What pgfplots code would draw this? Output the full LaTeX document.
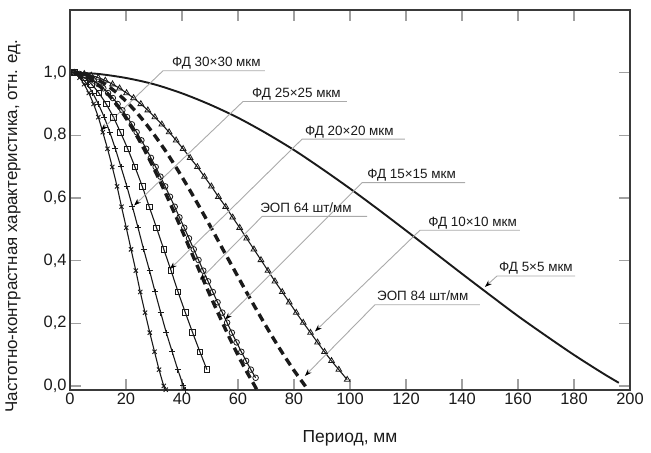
\documentclass[border=0pt]{standalone}
\usepackage{fontspec}
\setmainfont{Liberation Sans}
\usepackage{pgfplots}
\pgfplotsset{compat=1.18}
\usetikzlibrary{arrows.meta}

\definecolor{inkc}{HTML}{1A1A1A}
\definecolor{leadc}{HTML}{AAAAAA}
\definecolor{tickc}{HTML}{A0A0A0}
\definecolor{framec}{HTML}{3A3A3A}

\tikzset{
  lead/.style={leadc, line width=0.9bp},
  lbl/.style={font=\fontsize{13.5}{15}\selectfont, text=inkc, inner sep=0pt, anchor=base west, yshift=4bp},
  tip/.style={-{Stealth[length=7bp, width=5bp, color=black]}},
}

\begin{document}
\begin{tikzpicture}
\begin{axis}[
    scale only axis,
    width=560bp, height=380bp,
    xmin=0, xmax=200,
    ymin=-0.013, ymax=1.2,
    xtick={0,20,...,200},
    ytick={0,0.2,0.4,0.6,0.8,1.0},
    tick align=inside,
    major tick length=11bp,
    tick style={tickc, line width=1.2bp},
    axis line style={framec, line width=1.8bp},
    /pgf/number format/assume math mode=true,
    tick label style={font=\fontsize{16.5}{18}\selectfont, text=inkc},
    yticklabel style={/pgf/number format/.cd, fixed, fixed zerofill, precision=1, use comma},
    xlabel={Период, мм},
    ylabel={Частотно-контрастная характеристика, отн. ед.},
    every axis x label/.style={at={(rel axis cs:0.5,0)}, anchor=center, yshift=-48bp,
        font=\fontsize{17.5}{20}\selectfont, text=inkc},
    every axis y label/.style={at={(rel axis cs:0,0.5)}, rotate=90, anchor=center, yshift=57bp, xshift=-26bp,
        font=\fontsize{17}{20}\selectfont, text=inkc},
    every axis plot/.append style={inkc, smooth},
]

% ФД 30x30
\addplot[line width=1.1bp, mark=x, mark size=3bp, mark options={solid, line width=0.9bp}] coordinates {
(1.5,1.000)(3.4,0.984)(5.0,0.963)(6.7,0.935)(8.4,0.900)(10.1,0.858)(11.7,0.810)(13.4,0.757)(15.1,0.699)(16.8,0.637)(18.4,0.572)(20.1,0.505)(21.8,0.436)(23.5,0.368)(25.1,0.300)(26.8,0.234)(28.5,0.170)(30.2,0.109)(31.8,0.052)(33.5,0.000)(34.2,-0.012)};

% ФД 25x25
\addplot[line width=1.1bp, mark=+, mark size=3bp, mark options={solid, line width=0.9bp}] coordinates {
(1.5,1.000)(4.1,0.984)(6.1,0.963)(8.1,0.935)(10.1,0.900)(12.2,0.858)(14.2,0.810)(16.2,0.757)(18.2,0.699)(20.3,0.637)(22.3,0.572)(24.3,0.505)(26.3,0.436)(28.4,0.368)(30.4,0.300)(32.4,0.234)(34.4,0.170)(36.5,0.109)(38.5,0.052)(40.5,0.000)(41.2,-0.012)};

% ФД 20x20
\addplot[line width=1.1bp, mark=square, mark size=2.8bp, mark options={solid, fill=white, line width=0.8bp}] coordinates {
(1.5,1.000)(5.2,0.984)(7.7,0.963)(10.3,0.935)(12.9,0.900)(15.5,0.858)(18.0,0.810)(20.6,0.757)(23.2,0.699)(25.8,0.637)(28.3,0.572)(30.9,0.505)(33.5,0.436)(36.1,0.368)(38.6,0.300)(41.2,0.234)(43.8,0.170)(46.4,0.109)(48.9,0.052)};

% ЭОП 64 шт/мм
\addplot[line width=1.1bp, mark=o, mark size=2.8bp, mark options={solid, fill=white, line width=0.8bp}] coordinates {
(1.5,1.000)(3.4,0.996)(5.1,0.991)(6.8,0.984)(8.5,0.975)(10.2,0.963)(11.9,0.950)(13.6,0.935)(15.3,0.919)(17.0,0.900)(18.7,0.880)(20.4,0.858)(22.1,0.835)(23.8,0.810)(25.5,0.784)(27.2,0.757)(28.9,0.728)(30.6,0.699)(32.3,0.668)(34.0,0.637)(35.7,0.604)(37.4,0.572)(39.1,0.538)(40.8,0.505)(42.5,0.471)(44.2,0.436)(45.9,0.402)(47.6,0.368)(49.3,0.334)(51.0,0.300)(52.7,0.267)(54.4,0.234)(56.1,0.202)(57.8,0.170)(59.5,0.139)(61.2,0.109)(62.9,0.080)(64.6,0.052)(66.3,0.026)};

% ФД 15x15
\addplot[line width=3.4bp, dash pattern=on 8bp off 5bp] coordinates {
(1.5,1.000)(3.3,0.996)(6.6,0.984)(9.9,0.963)(13.2,0.935)(16.5,0.900)(19.8,0.858)(23.1,0.810)(26.4,0.757)(29.7,0.699)(33.0,0.637)(36.3,0.572)(39.6,0.505)(42.9,0.436)(46.2,0.368)(49.5,0.300)(52.8,0.234)(56.1,0.170)(59.4,0.109)(62.7,0.052)(66.0,0.000)(66.7,-0.012)};

% ЭОП 84 шт/мм
\addplot[line width=3.4bp, dash pattern=on 8bp off 5bp] coordinates {
(1.5,1.000)(4.2,0.996)(8.4,0.984)(12.6,0.963)(16.8,0.935)(21.0,0.900)(25.2,0.858)(29.4,0.810)(33.6,0.757)(37.8,0.699)(42.0,0.637)(46.2,0.572)(50.4,0.505)(54.6,0.436)(58.8,0.368)(63.0,0.300)(67.2,0.234)(71.4,0.170)(75.6,0.109)(79.8,0.052)(84.0,0.000)(85.0,-0.012)};

% ФД 10x10
\addplot[line width=1.1bp, mark=triangle, mark size=3.3bp, mark options={solid, fill=white, line width=0.8bp}] coordinates {
(1.5,1.000)(5.1,0.996)(7.6,0.991)(10.1,0.984)(12.6,0.975)(15.2,0.963)(17.7,0.950)(20.2,0.935)(22.7,0.919)(25.3,0.900)(27.8,0.880)(30.3,0.858)(32.8,0.835)(35.4,0.810)(37.9,0.784)(40.4,0.757)(42.9,0.728)(45.5,0.699)(48.0,0.668)(50.5,0.637)(53.0,0.604)(55.6,0.572)(58.1,0.538)(60.6,0.505)(63.1,0.471)(65.7,0.436)(68.2,0.402)(70.7,0.368)(73.2,0.334)(75.8,0.300)(78.3,0.267)(80.8,0.234)(83.3,0.202)(85.9,0.170)(88.4,0.139)(90.9,0.109)(93.4,0.080)(96.0,0.052)(99.0,0.020)};

% ФД 5x5
\addplot[line width=1.9bp] coordinates {
(1.5,1.000)(10,0.996)(20,0.983)(30,0.963)(40,0.934)(50,0.898)(60,0.856)(70,0.807)(80,0.753)(90,0.693)(100,0.630)(110,0.564)(120,0.496)(130,0.427)(140,0.358)(150,0.290)(160,0.223)(170,0.160)(180,0.099)(190,0.042)(196,0.010)};

% leader lines and labels
\draw[lead, tip] (69.6,1.006) -- (33.2,1.006) -- (11.1,0.816);
\node[lbl] at (36.4,1.006) {ФД 30×30 мкм};
\draw[lead, tip] (98.9,0.908) -- (61.8,0.908) -- (22.9,0.576);
\node[lbl] at (65.0,0.908) {ФД 25×25 мкм};
\draw[lead, tip] (119.6,0.788) -- (82.9,0.788) -- (35.7,0.373);
\node[lbl] at (83.9,0.788) {ФД 20×20 мкм};
\draw[lead, tip] (141.1,0.649) -- (104.3,0.649) -- (55.4,0.212);
\node[lbl] at (106.1,0.649) {ФД 15×15 мкм};
\draw[lead, tip] (106.1,0.541) -- (68.6,0.541) -- (46.4,0.339);
\node[lbl] at (67.9,0.541) {ЭОП 64 шт/мм};
\draw[lead, tip] (160.7,0.497) -- (125.0,0.497) -- (87.5,0.174);
\node[lbl] at (127.9,0.497) {ФД 10×10 мкм};
\draw[lead, tip] (180.4,0.351) -- (152.5,0.351) -- (148.2,0.316);
\node[lbl] at (153.2,0.351) {ФД 5×5 мкм};
\draw[lead, tip] (146.4,0.259) -- (108.9,0.259) -- (83.9,0.032);
\node[lbl] at (109.6,0.259) {ЭОП 84 шт/мм};
\end{axis}
\pgfresetboundingbox
\path[use as bounding box] ([xshift=-70bp, yshift=-63bp]current axis.south west) rectangle ([xshift=21bp, yshift=10bp]current axis.north east);
\end{tikzpicture}
\end{document}
